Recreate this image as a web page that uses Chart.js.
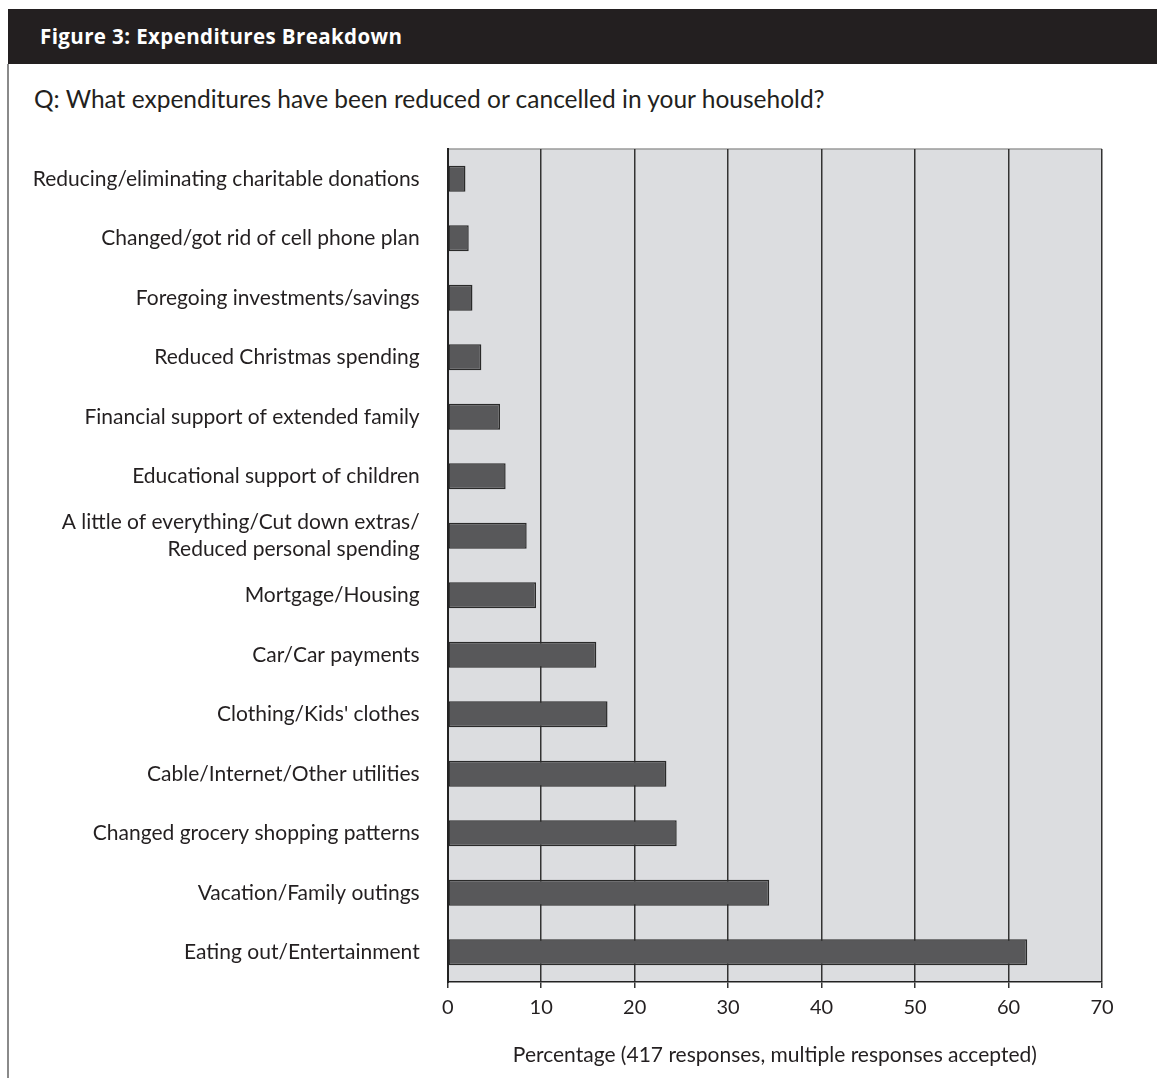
<!DOCTYPE html>
<html>
<head>
<meta charset="utf-8">
<script src="https://cdn.jsdelivr.net/npm/chart.js@4"></script>
<style>
    body { margin: 0; background: #fff; width: 1157px; height: 1078px; position: relative; overflow: hidden; font-family: Lato, "Open Sans", sans-serif; color: #231f20; }
    #header { position: absolute; left: 8px; top: 9px; width: 1149px; height: 55px; background: #231f20; }
    #header span { position: absolute; left: 32px; top: 13px; color: #fff; font-family: "Open Sans", sans-serif; font-weight: bold; font-size: 20.5px; letter-spacing: 0.4px; }
    #frame { position: absolute; left: 7px; top: 64px; width: 2px; height: 1014px; background: #8a8a8a; }
    #question { position: absolute; left: 34px; top: 84px; font-size: 24.5px; }
    #wrap { position: absolute; left: 10px; top: 130px; width: 1147px; height: 948px; }
</style>
</head>
<body>
<div id="header"><span>Figure 3: Expenditures Breakdown</span></div>
<div id="frame"></div>
<div id="question">Q: What expenditures have been reduced or cancelled in your household?</div>
<div id="wrap"><canvas id="chart"></canvas></div>
<script>
const categories = [
    "Reducing/eliminating charitable donations",
    "Changed/got rid of cell phone plan",
    "Foregoing investments/savings",
    "Reduced Christmas spending",
    "Financial support of extended family",
    "Educational support of children",
    ["A little of everything/Cut down extras/", "Reduced personal spending"],
    "Mortgage/Housing",
    "Car/Car payments",
    "Clothing/Kids' clothes",
    "Cable/Internet/Other utilities",
    "Changed grocery shopping patterns",
    "Vacation/Family outings",
    "Eating out/Entertainment"
];
const percentages = [1.9, 2.25, 2.65, 3.6, 5.6, 6.2, 8.45, 9.45, 15.9, 17.1, 23.4, 24.5, 34.4, 62.0];
const xMin = 0;
const xMax = 70;
const xStep = 10;
const xTitle = "Percentage (417 responses, multiple responses accepted)";

const plotBackground = {
    id: "plotBackground",
    beforeDraw: (chart) => {
        const { ctx, chartArea } = chart;
        ctx.save();
        ctx.fillStyle = "#dcdde0";
        ctx.fillRect(chartArea.left, chartArea.top, chartArea.right - chartArea.left, chartArea.bottom - chartArea.top);
        ctx.strokeStyle = "#9a9a9a";
        ctx.lineWidth = 1.5;
        ctx.beginPath();
        ctx.moveTo(chartArea.left, chartArea.top);
        ctx.lineTo(chartArea.right, chartArea.top);
        ctx.stroke();
        ctx.restore();
    }
};

new Chart(document.getElementById("chart"), {
    type: "bar",
    data: {
        labels: categories,
        datasets: [{
            data: percentages,
            backgroundColor: "#58585a",
            borderColor: "#2a2a2a",
            borderWidth: 1.5,
            borderSkipped: false,
            categoryPercentage: 1,
            barPercentage: 0.44
        }]
    },
    plugins: [plotBackground],
    options: {
        indexAxis: "y",
        responsive: true,
        maintainAspectRatio: false,
        animation: false,
        layout: { padding: { top: 19, right: 55, left: 0, bottom: 0 } },
        plugins: { legend: { display: false }, tooltip: { enabled: false } },
        scales: {
            x: {
                min: xMin,
                max: xMax,
                ticks: { stepSize: xStep, color: "#231f20", font: { family: "Lato", size: 20 }, padding: 8 },
                grid: { color: "#333", lineWidth: 1.5, tickLength: 6, drawOnChartArea: true },
                border: { color: "#222", width: 1.5 },
                title: { display: true, text: xTitle, color: "#231f20", font: { family: "Lato", size: 21 }, padding: { top: 4, bottom: 10 } },
                afterFit: (scale) => { scale.height = 96; }
            },
            y: {
                ticks: { color: "#231f20", font: { family: "Lato", size: 21, lineHeight: 1.25 }, padding: 20 },
                grid: { display: false },
                border: { color: "#222", width: 2 },
                afterFit: (scale) => {
                    scale.width = 437.7;
                    scale.paddingTop = 0;
                    scale.paddingBottom = 0;
                }
            }
        }
    }
});
</script>
</body>
</html>
